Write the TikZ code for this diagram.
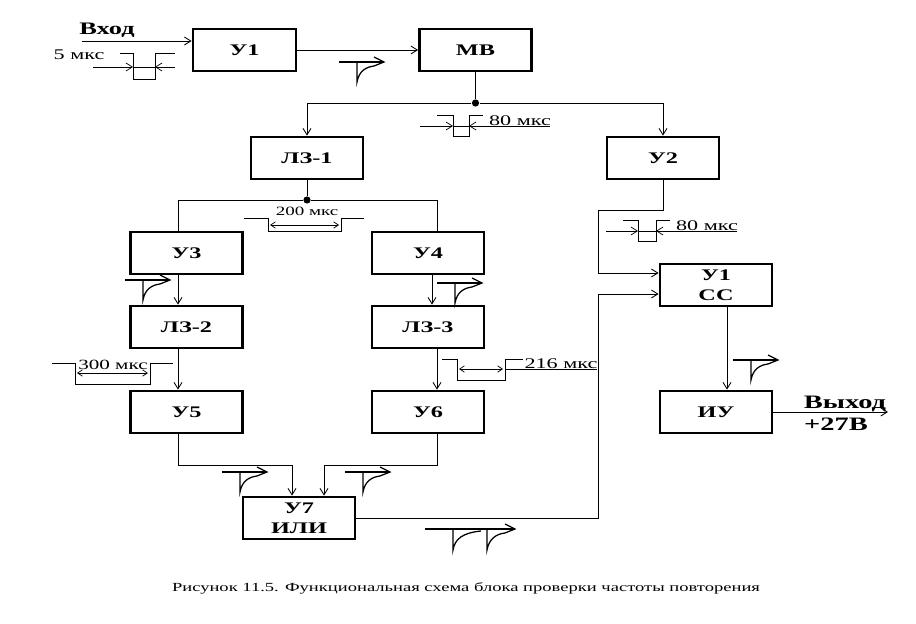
\documentclass[tikz,border=0pt]{standalone}
\usepackage{fontspec}
\setmainfont{Liberation Serif}[FakeStretch=1.5]
\usetikzlibrary{calc,arrows.meta}
\def\blocknode{\node[draw=black,line width=2pt,minimum width=2.8cm,minimum height=1.05cm,inner sep=1pt,align=center,font=\fontsize{11.5}{14.5}\selectfont\bfseries]}
\def\dotnode{\node[circle,fill=black,inner sep=0pt,minimum size=1.8mm]}
\def\sigdraw{\draw[line width=0.9pt]}
\def\dimdraw{\draw[line width=0.5pt,arrows={Straight Barb[length=1.2mm,width=1.6mm]-Straight Barb[length=1.2mm,width=1.6mm]}]}
% spike pulse, #1 = left end of its base line
\newcommand{\spikesig}[1]{%
  \begin{scope}[shift={#1}]
    \sigdraw (0,0) -- (45,0);
    \sigdraw (18,0) -- (18,20) .. controls (20,9) and (27,5) .. (35,4) -- (45,0) -- (35,-5);
  \end{scope}}
% square pulse: left end, fall, rise, right end, top, bottom
\newcommand{\squaresig}[6]{%
  \draw[line width=0.6pt] (#1,#5) -- (#2,#5) -- (#2,#6) -- (#3,#6) -- (#3,#5) -- (#4,#5);}

\begin{document}
\begin{tikzpicture}[x=0.025cm,y=-0.025cm,line width=0.6pt,
  >={Straight Barb[length=1.6mm,width=2mm]}]
\useasboundingbox (0,0) rectangle (916,624);

\blocknode[minimum width=2.575cm] (u1) at (244.5,50) {У1};
\blocknode (mv) at (475.5,50) {МВ};
\blocknode (lz1) at (307,158) {ЛЗ-1};
\blocknode (u2) at (663,158) {У2};
\blocknode (u3) at (186.5,253) {У3};
\blocknode (u4) at (428,253) {У4};
\blocknode (lz2) at (186.5,327) {ЛЗ-2};
\blocknode (lz3) at (428,327) {ЛЗ-3};
\blocknode (u5) at (186.5,412) {У5};
\blocknode (u6) at (428,412) {У6};
\blocknode (u7) at (299,518) {У7\\ИЛИ};
\blocknode (ucc) at (716,285) {У1\\СС};
\blocknode (iu) at (716,412) {ИУ};

% input and top row
\coordinate (in_c) at (82,41);
\node[font=\fontsize{12.5}{13}\selectfont\bfseries] (in_t) at (107,30) {Вход};
\draw[->] (in_c) -- (in_c -| u1.west);
\draw[->] (u1.east) -- (mv.west);
\dotnode (mv_dot) at (475.5,103) {};
\draw (mv.south) -- (mv_dot);
\draw[->] (mv_dot) -| (lz1.north);
\draw[->] (mv_dot) -| (u2.north);

% two delay branches
\dotnode (lz1_dot) at (307,200) {};
\draw (lz1.south) -- (lz1_dot);
\draw (lz1_dot) -| ($(u3.north)+(-8.5,0)$);
\draw (lz1_dot) -| ($(u4.north)+(9,0)$);
\draw[->] ($(u3.south)+(-8.5,0)$) -- ($(lz2.north)+(-8.5,0)$);
\draw[->] ($(lz2.south)+(-8.5,0)$) -- ($(u5.north)+(-8.5,0)$);
\draw[->] ($(u4.south)+(4,0)$) -- ($(lz3.north)+(4,0)$);
\draw[->] ($(lz3.south)+(9,0)$) -- ($(u6.north)+(9,0)$);
\coordinate (or_l) at (292,465);
\coordinate (or_r) at (324,465);
\draw[->] ($(u5.south)+(-8.5,0)$) |- (or_l) -- (or_l |- u7.north);
\draw[->] ($(u6.south)+(9,0)$) |- (or_r) -- (or_r |- u7.north);

% coincidence stage and output
\coordinate (fb_c) at (598,294);
\draw[->] (u7.east) -| (fb_c) -- (fb_c -| ucc.west);
\coordinate (u2_c) at (598,210);
\draw[->] (u2.south) |- (u2_c) |- ($(ucc.west)+(0,-12)$);
\draw[->] ($(ucc.south)+(11,0)$) -- ($(iu.north)+(11,0)$);
\coordinate (out_c) at (888,412);
\draw[->] (iu.east) -- (out_c);
\node[font=\fontsize{13.5}{14}\selectfont\bfseries] (out_t) at (845,404) {Выход};
\node[font=\fontsize{13.5}{14}\selectfont\bfseries] (volt_t) at (836,424) {+27В};

% square pulses
\squaresig{120}{133}{155}{175}{53}{79}
\draw[->,line width=0.5pt] (93,67) -- (133,67);
\draw[->,line width=0.5pt] (175,67) -- (155,67);
\draw[line width=0.5pt] (133,67) -- (155,67);
\node[font=\fontsize{10.5}{11}\selectfont] (t5) at (79,55) {5 мкс};

\squaresig{437}{453}{469}{483}{115}{136}
\draw[->,line width=0.5pt] (420,126) -- (453,126);
\draw[->,line width=0.5pt] (550,126) -- (469,126);
\draw[line width=0.5pt] (453,126) -- (469,126);
\node[font=\fontsize{10.5}{11}\selectfont] (t80a) at (520,121) {80 мкс};

\squaresig{244}{268}{341}{364}{218}{231}
\dimdraw (270,225) -- (339,225);
\node[font=\fontsize{9}{10}\selectfont] (t200) at (307,211) {200 мкс};

\squaresig{623}{638}{656}{670}{220}{241}
\draw[->,line width=0.5pt] (606,231) -- (638,231);
\draw[->,line width=0.5pt] (737,231) -- (656,231);
\draw[line width=0.5pt] (638,231) -- (656,231);
\node[font=\fontsize{10.5}{11}\selectfont] (t80b) at (707,226) {80 мкс};

\squaresig{52}{75}{150}{173}{363}{384}
\dimdraw (77,373) -- (148,373);
\node[font=\fontsize{10}{11}\selectfont] (t300) at (113,365) {300 мкс};

\squaresig{442}{457}{505}{523}{359}{380}
\dimdraw (459,369) -- (503,369);
\draw[line width=0.5pt] (505,369) -- (597,369);
\node[font=\fontsize{10.5}{11}\selectfont] (t216) at (561,364) {216 мкс};

% spike pulses
\spikesig{(339,62)}
\spikesig{(125,280)}
\spikesig{(437,283)}
\spikesig{(733,360)}
\spikesig{(222,472)}
\spikesig{(345,472)}
\sigdraw (425,529) -- (515,529);
\sigdraw (453,529) -- (453,550) .. controls (455,539) and (462,533) .. (481,531);
\sigdraw (487,529) -- (487,550) .. controls (489,539) and (496,534) .. (505,533) -- (515,529) -- (505,524);

\node[font=\fontsize{8.8}{10}\selectfont] (caption) at (466,588) {Рисунок 11.5. Функциональная схема блока проверки частоты повторения};
\end{tikzpicture}
\end{document}
